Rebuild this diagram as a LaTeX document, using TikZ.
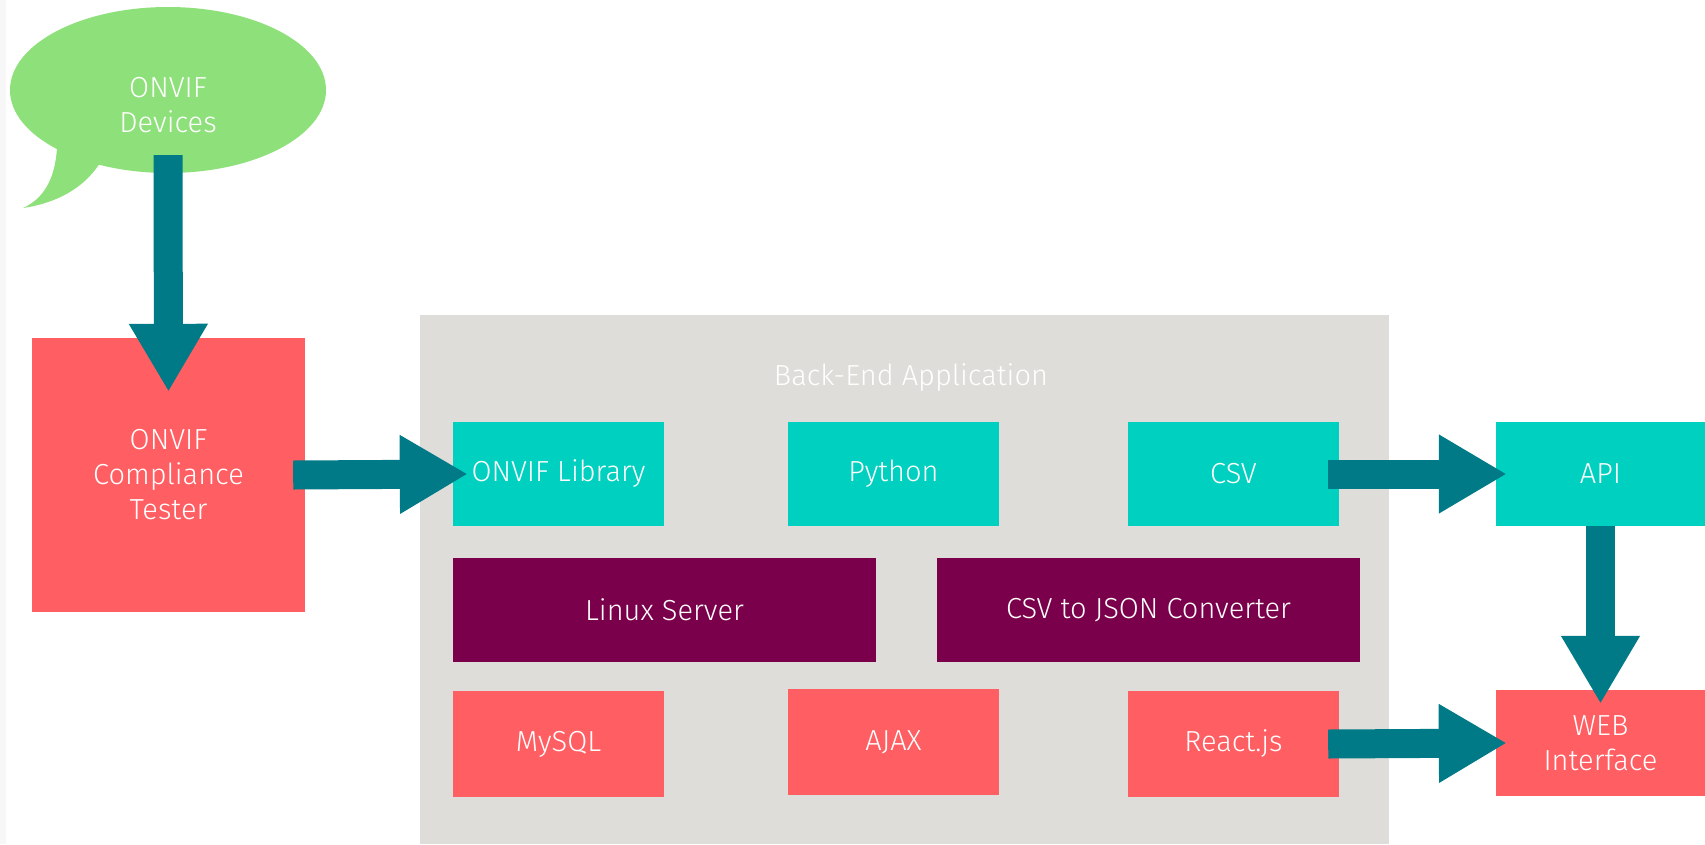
\documentclass[tikz,border=0pt]{standalone}
\usepackage{fontspec}
\setmainfont{Fira Sans Light}
\usetikzlibrary{arrows.meta,shapes.geometric}
\definecolor{bubblegreen}{RGB}{142,224,122}
\definecolor{arrowteal}{RGB}{0,122,135}
\definecolor{boxred}{RGB}{255,94,98}
\definecolor{boxcyan}{RGB}{0,208,192}
\definecolor{boxplum}{RGB}{122,0,75}
\definecolor{panelgray}{RGB}{222,221,218}
\definecolor{edgegray}{RGB}{247,247,247}

\begin{document}
\begin{tikzpicture}[x=1pt, y=-1pt,
  box/.style={rectangle, inner sep=0pt, text=white, align=center,
    font=\fontsize{29}{35}\selectfont},
  smallbox/.style={box, minimum width=211pt, minimum height=104pt},
  widebox/.style={box, minimum width=423pt, minimum height=104pt, fill=boxplum},
  blockarrow/.style={draw=arrowteal, line width=29pt,
    -{Triangle[length=68pt, width=74pt, fill=arrowteal]}}]
\useasboundingbox (0,0) rectangle (1705,844);
\fill[edgegray] (0,0) rectangle (6,844);
%%%%% Devices bubble %%%%%
\fill[bubblegreen] (57,148) .. controls (55,180) and (43,199) .. (23,208)
  .. controls (57,203) and (84,188) .. (100,163) -- cycle;
\node[ellipse, fill=bubblegreen, inner sep=0pt, minimum width=316pt, minimum height=166pt] (devices) at (168,90) {};
\node[box] (devtext) at (168,105) {ONVIF\\Devices};
%%%%% Tester %%%%%
\node[box, fill=boxred, minimum width=273pt, minimum height=274pt] (tester) at (168.5,475) {ONVIF\\Compliance\\Tester};
%%%%% Back-end %%%%%
\node[rectangle, fill=panelgray, inner sep=0pt, minimum width=969pt, minimum height=529pt] (backend) at (904.5,579.5) {};
\node[box] (betitle) at (911,378) {Back-End Application};
\node[smallbox, fill=boxcyan] (lib) at (558.5,474) {ONVIF Library};
\node[smallbox, fill=boxcyan] (python) at (893.5,474) {Python};
\node[smallbox, fill=boxcyan] (csv) at (1233.5,474) {CSV};
\node[widebox] (linux) at (664.5,610) {Linux Server};
\node[widebox] (conv) at (1148.5,610) {CSV to JSON Converter};
\node[smallbox, fill=boxred, minimum height=106pt] (mysql) at (558.5,744) {MySQL};
\node[smallbox, fill=boxred, minimum height=106pt] (ajax) at (893.5,742) {AJAX};
\node[smallbox, fill=boxred, minimum height=106pt] (react) at (1233.5,744) {React.js};
%%%%% Front-end %%%%%
\node[smallbox, fill=boxcyan, minimum width=209pt] (api) at (1600.5,474) {API};
\node[smallbox, fill=boxred, minimum width=209pt, minimum height=106pt] (web) at (1600.5,743) {WEB\\Interface};
%%%%% Arrows %%%%%
\draw[blockarrow] ([yshift=18pt]devices.south) -- ([yshift=-54pt]tester.north);
\draw[blockarrow] ([xshift=-12pt]tester.east) -- ([xshift=15pt]lib.west);
\draw[blockarrow] ([xshift=-11pt]csv.east) -- ([xshift=11pt]api.west);
\draw[blockarrow] (api.south) -- ([yshift=-14pt]web.north);
\draw[blockarrow] ([xshift=-11pt]react.east) -- ([xshift=11pt]web.west);
\end{tikzpicture}
\end{document}
